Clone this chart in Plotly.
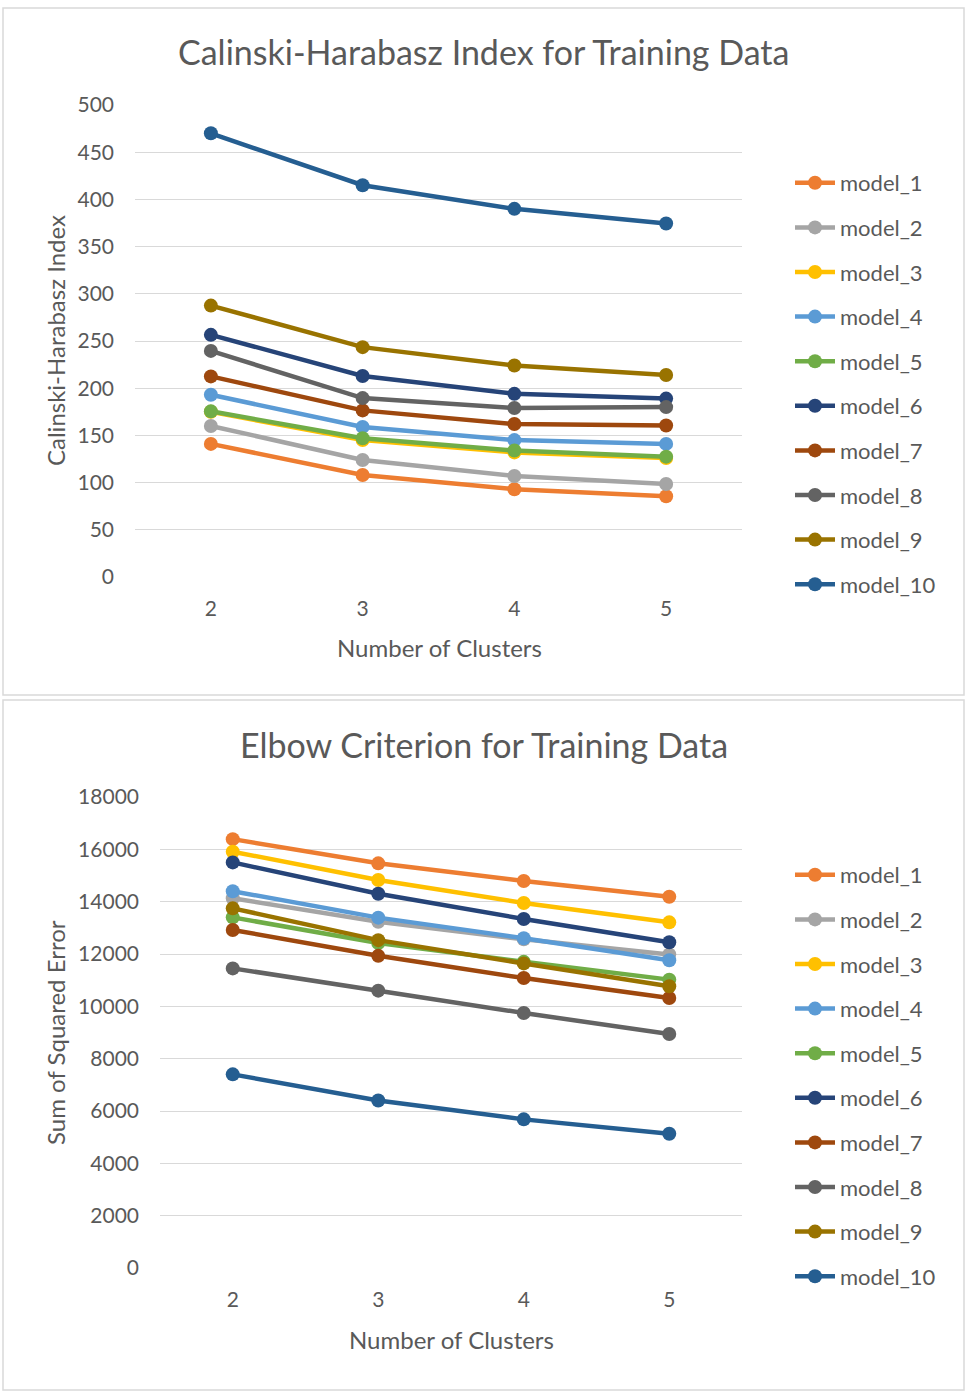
import plotly.graph_objects as go

clusters = [2, 3, 4, 5]
models = ["model_1", "model_2", "model_3", "model_4", "model_5",
          "model_6", "model_7", "model_8", "model_9", "model_10"]
colors = ["#ED7D31", "#A5A5A5", "#FFC000", "#5B9BD5", "#70AD47",
          "#264478", "#9E480E", "#636363", "#997300", "#255E91"]

ch_index = {
    "model_1": [141, 108, 93, 85.5],
    "model_2": [160, 124, 107, 98.5],
    "model_3": [175, 145, 132, 126],
    "model_4": [193, 159, 145, 141],
    "model_5": [175.5, 147, 134, 127.5],
    "model_6": [256.5, 213, 194, 189],
    "model_7": [212.5, 176.5, 162, 160.5],
    "model_8": [239.5, 189.5, 179, 180],
    "model_9": [287.5, 243.5, 224, 214],
    "model_10": [470, 415, 390, 374.5],
}
sse = {
    "model_1": [16390, 15465, 14790, 14190],
    "model_2": [14130, 13230, 12560, 11980],
    "model_3": [15910, 14830, 13950, 13210],
    "model_4": [14400, 13390, 12600, 11760],
    "model_5": [13400, 12420, 11700, 11020],
    "model_6": [15500, 14300, 13340, 12450],
    "model_7": [12920, 11930, 11080, 10320],
    "model_8": [11450, 10600, 9745, 8940],
    "model_9": [13745, 12530, 11640, 10765],
    "model_10": [7400, 6400, 5680, 5130],
}

W, H = 965, 1395
FONT = "Lato"
TXT = "#595959"
GRID = "#D9D9D9"

def px(x):
    return x / W

def py(y):
    return 1 - y / H

fig = go.Figure()
for m, c in zip(models, colors):
    fig.add_trace(go.Scatter(
        x=clusters, y=ch_index[m], name=m, mode="lines+markers",
        line=dict(color=c, width=4.5), marker=dict(color=c, size=14),
        xaxis="x", yaxis="y", legend="legend", legendgroup="a" + m))
for m, c in zip(models, colors):
    fig.add_trace(go.Scatter(
        x=clusters, y=sse[m], name=m, mode="lines+markers",
        line=dict(color=c, width=4.5), marker=dict(color=c, size=14),
        xaxis="x2", yaxis="y2", legend="legend2", legendgroup="b" + m))

tickfont = dict(family=FONT, size=21, color=TXT)
xcommon = dict(range=[1.5, 5.5], tickvals=clusters, showgrid=False, zeroline=False,
               showline=False, ticks="", tickfont=tickfont, ticklabelstandoff=17)
ycommon = dict(showgrid=True, gridcolor=GRID, gridwidth=1, zeroline=False,
               showline=False, ticks="", tickfont=tickfont, ticklabelstandoff=20,
               tickformat="d")

legcommon = dict(font=dict(family=FONT, size=22, color=TXT), bgcolor="rgba(0,0,0,0)",
                 tracegroupgap=13, itemwidth=40, xanchor="left", yanchor="top")

fig.update_layout(
    width=W, height=H, margin=dict(l=0, r=0, t=0, b=0, autoexpand=False),
    paper_bgcolor="white", plot_bgcolor="white",
    xaxis=dict(domain=[px(135), px(742)], anchor="y", **xcommon),
    yaxis=dict(domain=[py(577), py(105)], anchor="x", range=[0, 500], dtick=50, **ycommon),
    xaxis2=dict(domain=[px(160), px(742)], anchor="y2", **xcommon),
    yaxis2=dict(domain=[py(1268), py(797)], anchor="x2", range=[0, 18000], dtick=2000, **ycommon),
    legend=dict(x=px(790), y=py(162), **legcommon),
    legend2=dict(x=px(790), y=py(854), **legcommon),
    showlegend=True,
)

fig.update_layout(shapes=[
    dict(type="rect", xref="paper", yref="paper", x0=px(3), x1=px(964), y0=py(695), y1=py(8),
         line=dict(color=GRID, width=1.5), fillcolor="rgba(0,0,0,0)", layer="below"),
    dict(type="rect", xref="paper", yref="paper", x0=px(3), x1=px(964), y0=py(1390), y1=py(700),
         line=dict(color=GRID, width=1.5), fillcolor="rgba(0,0,0,0)", layer="below"),
])

def ann(text, x, y, size, angle=0):
    return dict(text=text, x=px(x), y=py(y), xref="paper", yref="paper", showarrow=False,
                xanchor="center", yanchor="middle", textangle=angle,
                font=dict(family=FONT, size=size, color=TXT))

fig.update_layout(annotations=[
    ann("Calinski-Harabasz Index for Training Data", 484, 52, 34),
    ann("Elbow Criterion for Training Data", 484, 744, 34),
    ann("Number of Clusters", 439, 647, 24),
    ann("Number of Clusters", 451, 1339, 24),
    ann("Calinski-Harabasz Index", 55, 341, 24, -90),
    ann("Sum of Squared Error", 55, 1033, 24, -90),
])

fig.write_html("out.html")
